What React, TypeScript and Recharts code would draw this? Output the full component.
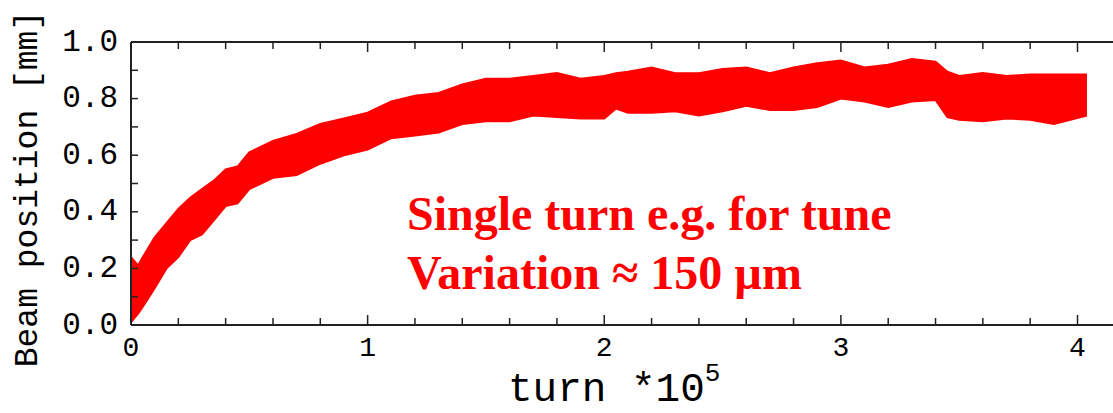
import React from "react";
import { ComposedChart, Area, XAxis, YAxis } from "recharts";

// turn number (units of 1e5) and the lower / upper edge of the red band, in mm
const turns = [
  0, 0.03, 0.05, 0.1, 0.15, 0.2, 0.25, 0.3, 0.35, 0.4, 0.45, 0.5, 0.6, 0.7, 0.8, 0.9, 1.0,
  1.1, 1.2, 1.3, 1.4, 1.5, 1.6, 1.7, 1.8, 1.9, 2.0, 2.05, 2.1, 2.2, 2.3, 2.4, 2.5, 2.6,
  2.7, 2.8, 2.9, 3.0, 3.1, 3.2, 3.3, 3.4, 3.45, 3.5, 3.6, 3.7, 3.8, 3.9, 4.04,
];
const upper = [
  0.24, 0.21, 0.24, 0.31, 0.36, 0.41, 0.45, 0.48, 0.51, 0.55, 0.56, 0.61, 0.65, 0.675, 0.71,
  0.73, 0.75, 0.79, 0.81, 0.82, 0.85, 0.87, 0.87, 0.88, 0.89, 0.87, 0.88, 0.89, 0.895, 0.91,
  0.89, 0.89, 0.905, 0.91, 0.89, 0.91, 0.925, 0.935, 0.91, 0.92, 0.94, 0.93, 0.895, 0.88,
  0.89, 0.88, 0.885, 0.885, 0.885,
];
const lower = [
  0.01, 0.04, 0.065, 0.13, 0.2, 0.24, 0.3, 0.32, 0.37, 0.42, 0.43, 0.48, 0.52, 0.53, 0.57,
  0.6, 0.62, 0.66, 0.67, 0.68, 0.71, 0.72, 0.72, 0.74, 0.735, 0.73, 0.73, 0.765, 0.75, 0.75,
  0.755, 0.74, 0.755, 0.775, 0.76, 0.76, 0.77, 0.8, 0.79, 0.77, 0.79, 0.795, 0.735, 0.725,
  0.72, 0.73, 0.725, 0.71, 0.74,
];

const xTicks = [
  0, 0.2, 0.4, 0.6, 0.8, 1, 1.2, 1.4, 1.6, 1.8, 2, 2.2, 2.4, 2.6, 2.8, 3, 3.2, 3.4, 3.6,
  3.8, 4,
];
const yTicks = [0, 0.1, 0.2, 0.3, 0.4, 0.5, 0.6, 0.7, 0.8, 0.9, 1.0];

const data = turns.map((t, i) => ({ t, band: [lower[i], upper[i]] }));

const AXIS = "#222";
const MONO = "'Liberation Mono', 'DejaVu Sans Mono', monospace";
const RED = "#ff0000";

const isInt = (v: number) => Math.abs(v - Math.round(v)) < 1e-6;
const isEvenTenth = (v: number) => Math.round(v * 10) % 2 === 0;

function BottomTick(props: any) {
  const { x, y, payload } = props;
  const v = payload.value;
  const len = isInt(v) ? 10 : 7;
  return (
    <g>
      <line x1={x} y1={y} x2={x} y2={y - len} stroke={AXIS} strokeWidth={1.5} />
      {isInt(v) && (
        <text x={x} y={y + 23} textAnchor="middle" dominantBaseline="central" fontFamily={MONO} fontSize={28} fill="#000">
          {v}
        </text>
      )}
    </g>
  );
}

function TopTick(props: any) {
  const { x, y, payload } = props;
  const len = isInt(payload.value) ? 10 : 7;
  return <line x1={x} y1={y} x2={x} y2={y + len} stroke={AXIS} strokeWidth={1.5} />;
}

function LeftTick(props: any) {
  const { x, y, payload } = props;
  const v = payload.value;
  return (
    <g>
      <line x1={x} y1={y} x2={x + 7} y2={y} stroke={AXIS} strokeWidth={1.5} />
      {isEvenTenth(v) && (
        <text x={x - 13} y={y} textAnchor="end" dominantBaseline="central" fontFamily={MONO} fontSize={31} fill="#000">
          {v.toFixed(1)}
        </text>
      )}
    </g>
  );
}

export default function App() {
  return (
    <div style={{ position: "absolute", left: 0, top: 0, width: 1113, height: 413, overflow: "hidden", background: "#fff" }}>
      <ComposedChart width={1113} height={413} data={data} margin={{ top: 0, right: 0, left: 0, bottom: 0 }}>
        <XAxis
          dataKey="t"
          type="number"
          domain={[0, 4.15]}
          ticks={xTicks}
          interval={0}
          height={88}
          tickSize={0}
          tickMargin={0}
          tickLine={false}
          axisLine={{ stroke: AXIS, strokeWidth: 2 }}
          tick={BottomTick}
          allowDataOverflow
        />
        <XAxis
          xAxisId="top"
          orientation="top"
          dataKey="t"
          type="number"
          domain={[0, 4.15]}
          ticks={xTicks}
          interval={0}
          height={42}
          tickSize={0}
          tickMargin={0}
          tickLine={false}
          axisLine={{ stroke: AXIS, strokeWidth: 2 }}
          tick={TopTick}
          allowDataOverflow
        />
        <YAxis
          type="number"
          domain={[0, 1]}
          ticks={yTicks}
          interval={0}
          width={131}
          tickSize={0}
          tickMargin={0}
          tickLine={false}
          axisLine={{ stroke: AXIS, strokeWidth: 2 }}
          tick={LeftTick}
          allowDataOverflow
        />
        <Area
          type="linear"
          dataKey="band"
          stroke={RED}
          strokeWidth={2}
          fill={RED}
          fillOpacity={1}
          dot={false}
          activeDot={false}
          isAnimationActive={false}
        />
      </ComposedChart>
      <svg width={1113} height={413} style={{ position: "absolute", left: 0, top: 0, pointerEvents: "none" }}>
        <text
          transform="translate(28,189) rotate(-90)"
          textAnchor="middle"
          dominantBaseline="central"
          fontFamily={MONO}
          fontSize={33}
          fill="#000"
        >
          Beam position [mm]
        </text>
        <text x={508} y={401} fontFamily={MONO} fontSize={41} fill="#000">
          turn *10
          <tspan fontSize={26} dy={-20}>5</tspan>
        </text>
        <text x={407} y={230} fontFamily="'Liberation Serif', 'Times New Roman', serif" fontWeight="bold" fontSize={48} fill={RED}>
          Single turn e.g. for tune
        </text>
        <text x={407} y={289} fontFamily="'Liberation Serif', 'Times New Roman', serif" fontWeight="bold" fontSize={48} fill={RED}>
          Variation ≈ 150 µm
        </text>
      </svg>
    </div>
  );
}
